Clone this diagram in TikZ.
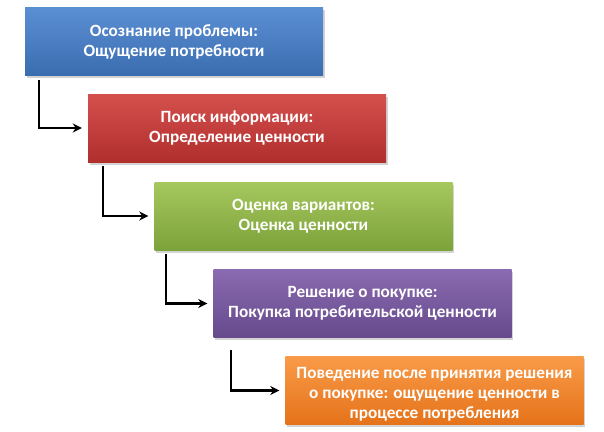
\documentclass[tikz,border=0pt]{standalone}
\usepackage{fontspec}
\setmainfont{Carlito}
\usetikzlibrary{shadows,arrows.meta,calc}
\definecolor{bluetop}{HTML}{5B8FD3}
\definecolor{bluebot}{HTML}{3A6DB0}
\definecolor{redtop}{HTML}{D4504E}
\definecolor{redbot}{HTML}{B02E2C}
\definecolor{greentop}{HTML}{A6C85E}
\definecolor{greenbot}{HTML}{7CA23A}
\definecolor{purptop}{HTML}{8A6AB0}
\definecolor{purpbot}{HTML}{664A8C}
\definecolor{orantop}{HTML}{F99A48}
\definecolor{oranbot}{HTML}{E5731A}
\tikzset{
  stagetext/.style={text=white, font=\fontsize{17.2}{20}\selectfont\bfseries, align=center, inner sep=0pt},
  stagebox/.style={rectangle, minimum width=298pt, minimum height=68pt, inner sep=2pt, stagetext,
    drop shadow={shadow xshift=1.5pt, shadow yshift=-2.5pt, opacity=0.35}},
  arr/.style={draw=black, line width=2.2pt, -{Stealth[length=9pt,width=9pt]}, shorten >=6pt}
}
\begin{document}
\begin{tikzpicture}[x=1pt,y=-1pt]
\useasboundingbox (0,0) rectangle (604,431);
\node[stagebox, top color=bluetop, bottom color=bluebot] (b1) at (174,41.5) {Осознание проблемы:\\Ощущение потребности};
\node[stagebox, top color=redtop, bottom color=redbot] (b2) at (237,128) {Поиск информации:\\Определение ценности};
\node[stagebox, top color=greentop, bottom color=greenbot] (b3) at (303.5,216) {Оценка вариантов:\\Оценка ценности};
\node[stagebox, top color=purptop, bottom color=purpbot] (b4) at (362.5,303.5) {Решение о покупке:\\Покупка потребительской ценности};
\node[stagebox, top color=orantop, bottom color=oranbot] (b5) at (434.5,390.5) {};
\node[stagetext] (t5) at ($(b5.center)+(0,4)$) {Поведение после принятия решения\\о покупке: ощущение ценности в\\процессе потребления};
\draw[arr] ($(b1.south west)+(14,4)$) |- (b2.west);
\draw[arr] ($(b2.south west)+(15,4)$) |- (b3.west);
\draw[arr] ($(b3.south west)+(12,4)$) |- (b4.west);
\draw[arr] ($(b4.south west)+(18,12)$) |- (b5.west);
\end{tikzpicture}
\end{document}
